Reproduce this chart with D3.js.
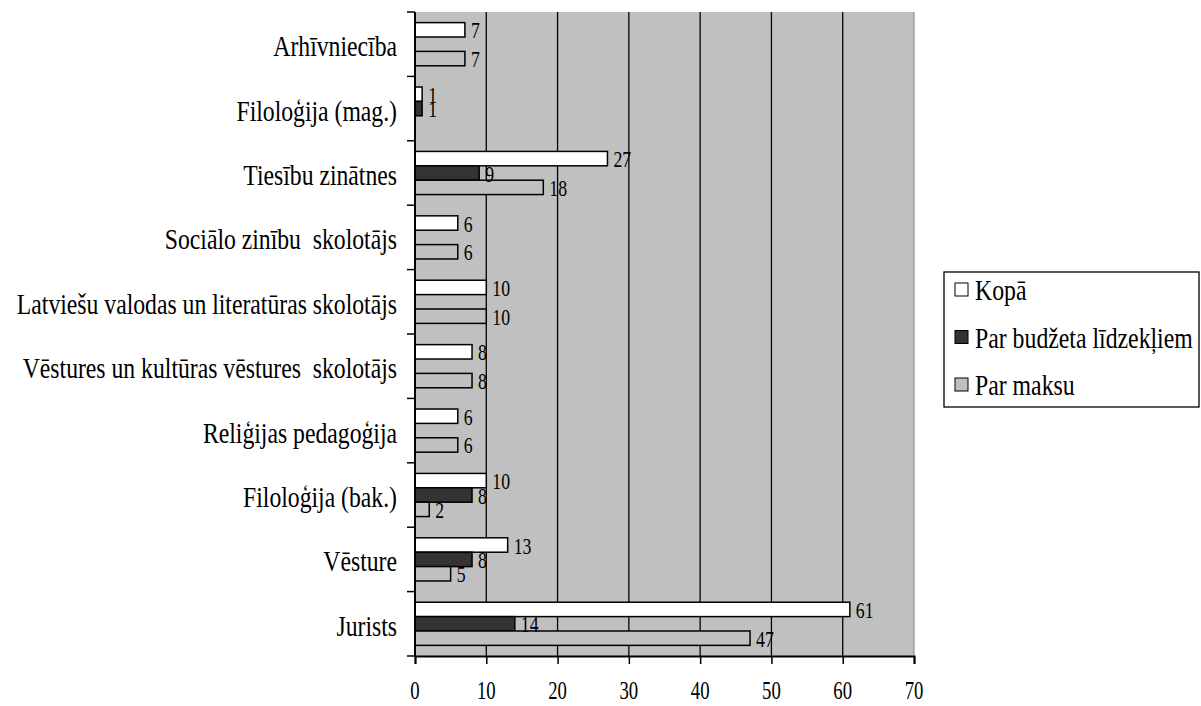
<!DOCTYPE html>
<html><head><meta charset="utf-8">
<script src="https://cdn.jsdelivr.net/npm/d3@7"></script>
<style>body{margin:0;background:#fff;}</style></head>
<body><svg id="c" width="1201" height="706"></svg>
<script>
const categories = ["Arhīvniecība","Filoloģija (mag.)","Tiesību zinātnes","Sociālo zinību  skolotājs","Latviešu valodas un literatūras skolotājs","Vēstures un kultūras vēstures  skolotājs","Reliģijas pedagoģija","Filoloģija (bak.)","Vēsture","Jurists"];
const seriesNames = ["Kopā","Par budžeta līdzekļiem","Par maksu"];
const kopa =    [7, 1, 27, 6, 10, 8, 6, 10, 13, 61];
const budzets = [0, 1, 9, 0, 0, 0, 0, 8, 8, 14];
const maksa =   [7, 0, 18, 6, 10, 8, 6, 2, 5, 47];
const xTicks = [0,10,20,30,40,50,60,70];
const colors = ["#ffffff","#333333","#c0c0c0"];
const FONT = '"Liberation Serif","Times New Roman",serif';

const svg = d3.select("#c");
const L = 415, R = 914, T = 12, B = 656;
const x = d3.scaleLinear().domain([0,70]).range([L,R]);
const y = d3.scaleBand().domain(categories).range([T,B]).paddingInner(0.33).paddingOuter(0.165);
const ys = d3.scaleBand().domain([0,1,2]).range([0,y.bandwidth()]);

// condensed text helper
function ctext(parent, tx, ty, str, size, sx, anchor){
  const g = parent.append("g").attr("transform",`translate(${tx},${ty}) scale(${sx},1)`);
  g.append("text").attr("x",0).attr("y",0).attr("text-anchor",anchor||"start")
   .style("font-family",FONT).style("font-size",size+"px").style("white-space","pre")
   .attr("fill","#000").text(str);
  return g;
}

svg.append("rect").attr("x",L).attr("y",T).attr("width",R-L).attr("height",B-T).attr("fill","#c0c0c0");
svg.append("line").attr("x1",R).attr("x2",R).attr("y1",T).attr("y2",B).attr("stroke","#808080").attr("stroke-width",1);
svg.append("g").selectAll("line").data(xTicks.filter(d=>d>0&&d<70)).join("line")
  .attr("x1",d=>x(d)).attr("x2",d=>x(d)).attr("y1",T).attr("y2",B).attr("stroke","#000").attr("stroke-width",1.3);

const series = [kopa,budzets,maksa];
const data = [];
categories.forEach((c,i)=>series.forEach((s,j)=>{ if(s[i]>0) data.push({c,j,v:s[i]}); }));
const g = svg.append("g");
g.selectAll("rect").data(data).join("rect")
  .attr("x",x(0)).attr("y",d=>y(d.c)+ys(d.j)).attr("width",d=>x(d.v)-x(0)).attr("height",ys.bandwidth())
  .attr("fill",d=>colors[d.j]).attr("stroke","#000").attr("stroke-width",1.5);
const lab = svg.append("g");
data.forEach(d=>ctext(lab, x(d.v)+6, y(d.c)+ys(d.j)+ys.bandwidth()/2+8.5, d.v, 24, 0.74));

// x axis
const xa = svg.append("g").attr("transform",`translate(0,${B})`)
  .call(d3.axisBottom(x).tickValues(xTicks).tickSize(8).tickFormat(""));
xa.select(".domain").attr("stroke","#000").attr("stroke-width",2);
xa.selectAll(".tick line").attr("stroke","#000").attr("stroke-width",1.5);
const xl = svg.append("g");
xTicks.forEach(t=>ctext(xl, x(t), 699, t, 26, 0.72, "middle"));

// y axis
const yb = d3.scaleLinear().domain([0,categories.length]).range([T,B]);
const ya = svg.append("g").attr("transform",`translate(${L},0)`);
ya.append("line").attr("x1",0).attr("x2",0).attr("y1",T).attr("y2",B).attr("stroke","#000").attr("stroke-width",2);
ya.selectAll("line.t").data(d3.range(0,categories.length+1)).join("line").attr("class","t")
  .attr("x1",-8).attr("x2",0).attr("y1",d=>yb(d)).attr("y2",d=>yb(d)).attr("stroke","#000").attr("stroke-width",1.5);
const yl = svg.append("g");
categories.forEach(c=>ctext(yl, 397, y(c)+y.bandwidth()/2+12, c, 30, 0.79, "end"));

// legend
const lg = svg.append("g");
lg.append("rect").attr("x",944).attr("y",272).attr("width",255).attr("height",135).attr("fill","#fff").attr("stroke","#000").attr("stroke-width",1.3);
seriesNames.forEach((n,i)=>{
  const top = 283 + i*47.5;
  lg.append("rect").attr("x",955).attr("y",top).attr("width",13).attr("height",13).attr("fill",colors[i]).attr("stroke","#000").attr("stroke-width",1);
  ctext(lg, 975, top+17, n, 29, 0.82);
});
</script></body></html>
